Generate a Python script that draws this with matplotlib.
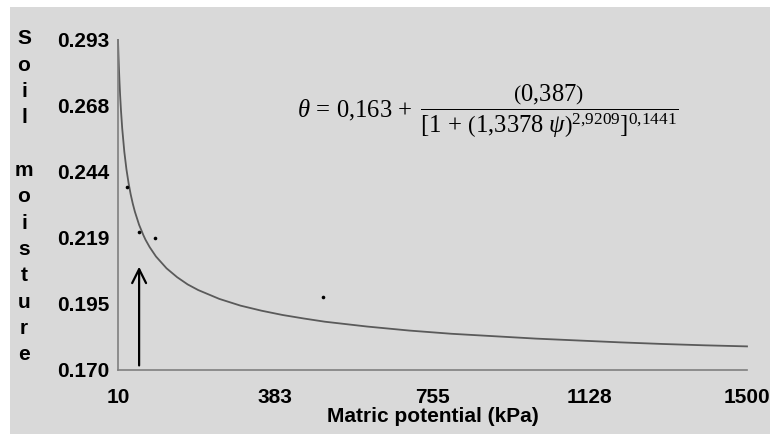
import matplotlib
matplotlib.use("Agg")
import matplotlib.pyplot as plt
from matplotlib.patches import Rectangle

# Fitted curve
curve_psi = [10, 11, 12, 13.5, 15, 17, 20, 25, 30, 35, 40, 45, 50, 60, 70, 75,
             85, 100, 125, 150, 175, 200, 250, 300, 350, 400, 450, 500, 600,
             700, 800, 900, 1000, 1100, 1200, 1300, 1400, 1500]
curve_theta = [0.2930, 0.2878, 0.2833, 0.2775, 0.2725, 0.2669, 0.2600, 0.2513,
               0.2448, 0.2397, 0.2355, 0.2320, 0.2290, 0.2241, 0.2203, 0.2186,
               0.2158, 0.2123, 0.2079, 0.2046, 0.2019, 0.1998, 0.1965, 0.1940,
               0.1921, 0.1905, 0.1892, 0.1880, 0.1862, 0.1847, 0.1835, 0.1826,
               0.1817, 0.1810, 0.1803, 0.1797, 0.1792, 0.1788]

# Measured points
obs_psi = [31, 60, 98, 496]
obs_theta = [0.2382, 0.2214, 0.2192, 0.1972]

x_ticks = [10, 382.5, 755, 1127.5, 1500]
x_tick_labels = ["10", "383", "755", "1128", "1500"]
y_ticks = [0.170, 0.1946, 0.2192, 0.2438, 0.2684, 0.293]
y_tick_labels = ["0.170", "0.195", "0.219", "0.244", "0.268", "0.293"]

arrow_x = 60
arrow_y_start = 0.1717
arrow_y_end = 0.2085

W, H = 770, 434
fig = plt.figure(figsize=(7.7, 4.34), dpi=100, facecolor="white")
bg = "#d9d9d9"
fig.patches.append(Rectangle((10 / W, 0), 1 - 10 / W, 1 - 7 / H,
                             transform=fig.transFigure, facecolor=bg,
                             edgecolor="none", zorder=-10))

ax = fig.add_axes([118 / W, 1 - 370 / H, (747 - 118) / W, 330 / H])
ax.set_facecolor("none")
ax.set_zorder(1)
ax.set_xlim(10, 1500)
ax.set_ylim(0.170, 0.293)

ax.plot(curve_psi, curve_theta, color="#5a5a5a", lw=1.3, clip_on=False)
ax.plot(obs_psi, obs_theta, "o", color="black", ms=2.6, mec="none")

ax.annotate("", xy=(arrow_x, arrow_y_end), xytext=(arrow_x, arrow_y_start),
            arrowprops=dict(arrowstyle="->,head_length=1.0,head_width=0.5",
                            color="black", lw=1.6, shrinkA=0, shrinkB=0))

for s in ["top", "right"]:
    ax.spines[s].set_visible(False)
for s in ["left", "bottom"]:
    ax.spines[s].set_color("#7f7f7f")
    ax.spines[s].set_linewidth(1.2)

bold = dict(family=["Liberation Sans", "DejaVu Sans"], weight="bold", size=15)
ax.set_xticks(x_ticks)
ax.set_xticklabels(x_tick_labels, **bold)
ax.set_yticks(y_ticks)
ax.set_yticklabels(y_tick_labels, **bold)
ax.tick_params(axis="both", length=0)
ax.tick_params(axis="x", pad=13)
ax.tick_params(axis="y", pad=6)

fig.text(432.5 / W, 1 - 416 / H, "Matric potential (kPa)", ha="center",
         va="center", **bold)

letters = ["S", "o", "i", "l", "", "m", "o", "i", "s", "t", "u", "r", "e"]
for i, ch in enumerate(letters):
    if ch:
        fig.text(24 / W, 1 - (39 + i * 26.3) / H, ch, ha="center",
                 va="center", **bold)

plt.rcParams["mathtext.fontset"] = "custom"
plt.rcParams["mathtext.rm"] = "Liberation Serif"
plt.rcParams["mathtext.it"] = "Liberation Serif:italic"
eq = (r"$\theta\,=\,0{,}163\,+\;\dfrac{\left(0{,}387\right)}"
      r"{[1\,+\,\left(1{,}3378\ \psi\right)^{2{,}9209}]^{0{,}1441}}$")
fig.text(297 / W, 1 - 111 / H, eq, ha="left", va="center", size=17.7,
         color="black")

fig.savefig("out.png", dpi=100, facecolor="white")
